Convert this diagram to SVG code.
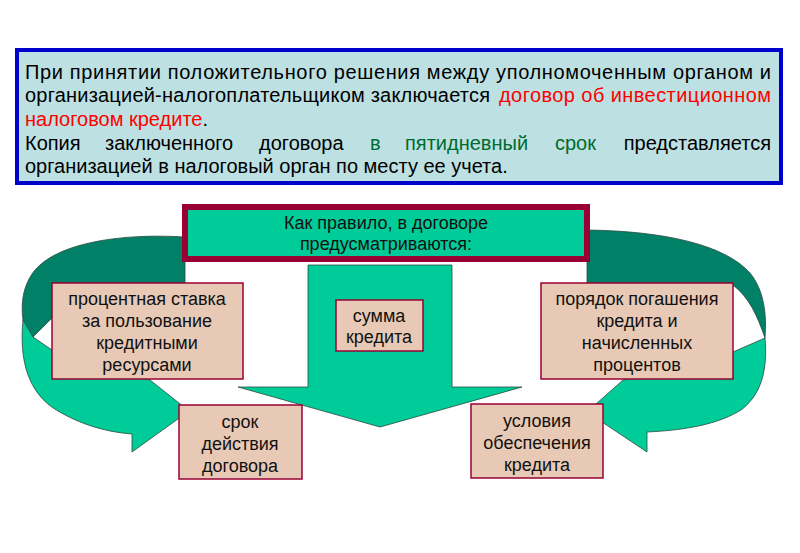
<svg xmlns="http://www.w3.org/2000/svg" width="800" height="553" viewBox="0 0 800 553">
<style>
.t{font-family:"Liberation Sans",Arial,sans-serif;font-size:20px;fill:#000}
.red{fill:#FF0000}
.grn{fill:#006B2E}
.bx{fill:#E8C9B5;stroke:#990033;stroke-width:1.5}
.bt{font-family:"Liberation Sans",Arial,sans-serif;font-size:18px;fill:#111;text-anchor:middle}
.dark{fill:#008066;stroke:#2b4a40;stroke-width:0.8}
.light{fill:#00CC99;stroke:#2b4a40;stroke-width:0.8}
</style>
<rect width="800" height="553" fill="#fff"/>
<g id="intro">
<rect x="17" y="50" width="764" height="133" fill="#BDE0E3" stroke="#0000CC" stroke-width="4"/>
<text class="t" x="25" y="79" textLength="746" lengthAdjust="spacing">При принятии положительного решения между уполномоченным органом и</text>
<text class="t" x="25" y="102" textLength="465" lengthAdjust="spacing">организацией-налогоплательщиком заключается</text>
<text class="t red" x="499" y="102" textLength="272" lengthAdjust="spacing">договор об инвестиционном</text>
<text class="t" x="25" y="126"><tspan class="red">налоговом кредите</tspan>.</text>
<text class="t" y="150"><tspan x="25">Копия</tspan><tspan x="105">заключенного</tspan><tspan x="259">договора</tspan><tspan x="370" class="grn">в</tspan><tspan x="405" class="grn">пятидневный</tspan><tspan x="555" class="grn">срок</tspan></text>
<text class="t" x="771" y="150" text-anchor="end">представляется</text>
<text class="t" x="25" y="173">организацией в налоговый орган по месту ее учета.</text>
</g>
<g id="connectors">
<path id="left-ribbon-top" class="dark" d="M185,237 C120,233 58,243 35,270 C22,286 21,305 23,320 L33,337 L52,318 L52,283 L185,283 Z"/>
<path id="left-ribbon-arrow" class="light" d="M23,320 C19,360 28,394 58,411 C80,424 105,432 132,434 L132,452 L189,411 L150,380 L52,350 L33,337 Z"/>
<path id="right-ribbon-top" class="dark" d="M587,230 C665,231 725,245 750,273 C764,290 767,315 765,338 C758,318 750,298 733,285 L587,283 Z"/>
<path id="right-ribbon-arrow" class="light" d="M765,338 C768,370 761,395 741,410 C720,423 690,430 647,432 L647,452 L587,412 L623,380 L733,352 Z"/>
<path id="center-arrow" class="light" d="M308,265 L452,265 L452,387 L522,387 L380,427 L238,387 L308,387 Z"/>
</g>
<g id="header">
<rect x="185" y="207" width="402" height="52" fill="#00CC99" stroke="#990033" stroke-width="6"/>
<text class="bt" x="386" y="229">Как правило, в договоре</text>
<text class="bt" x="386" y="250">предусматриваются:</text>
</g>
<g id="rate">
<rect class="bx" x="52" y="283" width="191" height="96"/>
<text class="bt" x="147" y="305">процентная ставка</text>
<text class="bt" x="147" y="327">за пользование</text>
<text class="bt" x="147" y="349">кредитными</text>
<text class="bt" x="147" y="371">ресурсами</text>
</g>
<g id="amount">
<rect class="bx" x="336" y="300" width="87" height="51"/>
<text class="bt" x="379" y="322">сумма</text>
<text class="bt" x="379" y="343">кредита</text>
</g>
<g id="repayment">
<rect class="bx" x="541" y="283" width="192" height="96"/>
<text class="bt" x="637" y="305">порядок погашения</text>
<text class="bt" x="637" y="327">кредита и</text>
<text class="bt" x="637" y="349">начисленных</text>
<text class="bt" x="637" y="371">процентов</text>
</g>
<g id="term">
<rect class="bx" x="179" y="405" width="123" height="74"/>
<text class="bt" x="240" y="428">срок</text>
<text class="bt" x="240" y="450">действия</text>
<text class="bt" x="240" y="472">договора</text>
</g>
<g id="security">
<rect class="bx" x="471" y="404" width="132" height="74"/>
<text class="bt" x="537" y="427">условия</text>
<text class="bt" x="537" y="449">обеспечения</text>
<text class="bt" x="537" y="471">кредита</text>
</g>
</svg>
